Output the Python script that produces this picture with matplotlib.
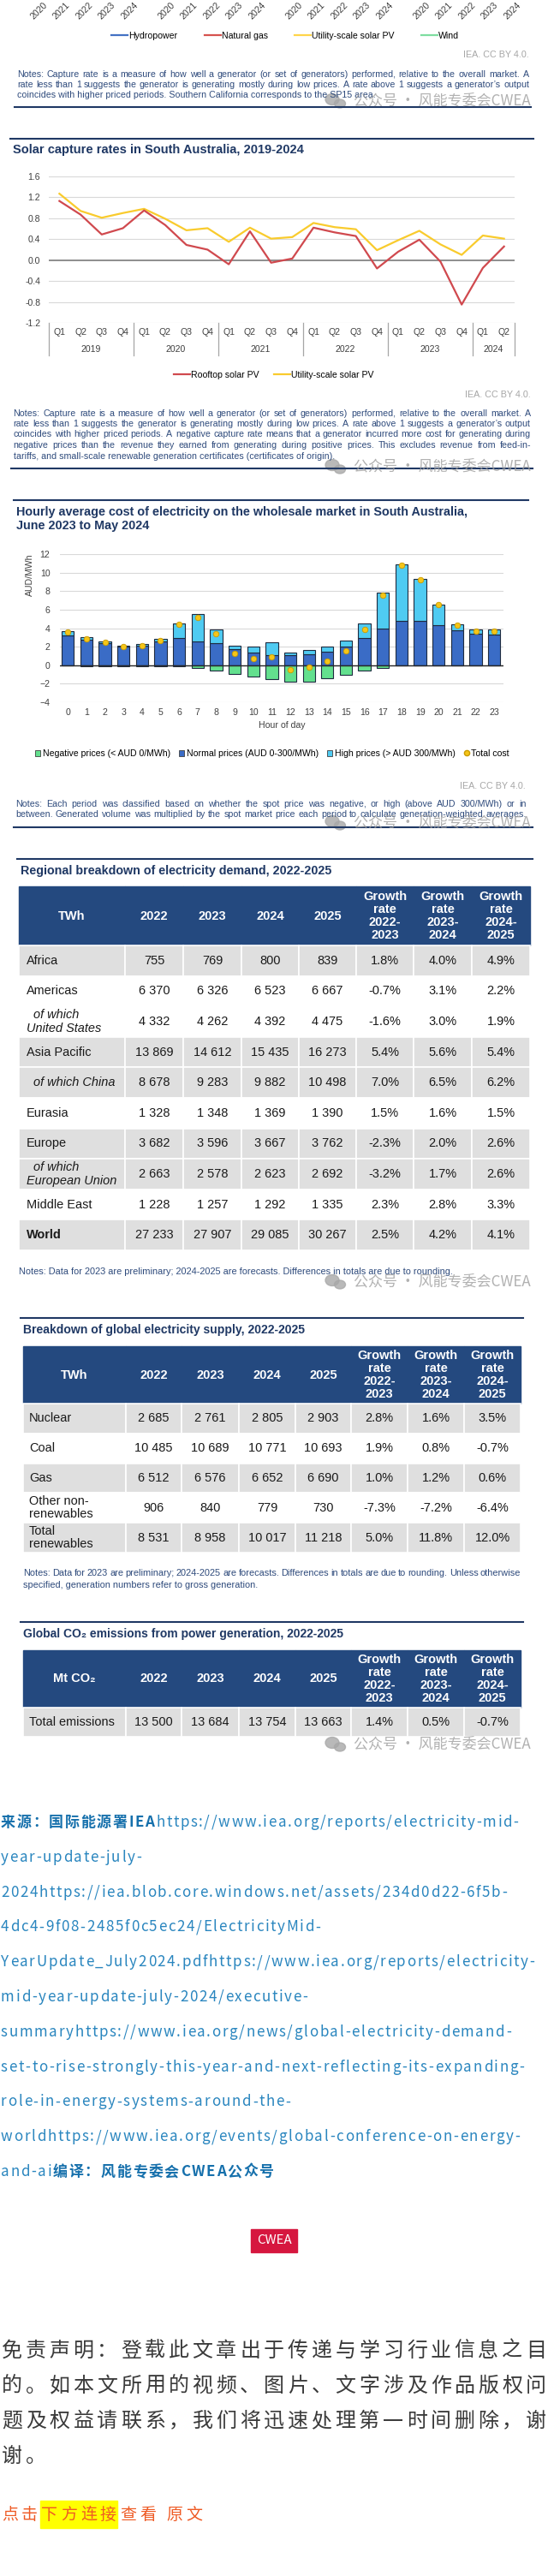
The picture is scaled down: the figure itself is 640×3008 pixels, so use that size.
import numpy as np
import matplotlib
matplotlib.use('Agg')
import matplotlib.pyplot as plt
import matplotlib.transforms as mtransforms
from matplotlib.lines import Line2D
from matplotlib.patches import Patch, Ellipse, Rectangle
from matplotlib.font_manager import FontProperties, findfont
from matplotlib.ft2font import FT2Font

W, H = 640, 3008
LATIN = ['Liberation Sans', 'DejaVu Sans']
CJK = ['Noto Sans CJK SC', 'DejaVu Sans']
plt.rcParams['font.family'] = LATIN

NAVY = '#1F3864'
NOTE = '#2F4B7C'
TICK = '#404040'
HEAD = '#24497F'

# ---- Daten ----
top_years = ['2020', '2021', '2022', '2023', '2024']
top_series = ['Hydropower', 'Natural gas', 'Utility-scale solar PV', 'Wind']
top_colors = ['#4472C4', '#D6534F', '#FFD54A', '#7EDDA0']

quarter_labels = ['Q1', 'Q2', 'Q3', 'Q4'] * 5 + ['Q1', 'Q2']
quarter_years = ['2019', '2020', '2021', '2022', '2023', '2024']
quarters_per_year = [4, 4, 4, 4, 4, 2]
rooftop_pv = [1.13, 0.87, 0.49, 0.61, 0.95, 0.67, 0.29, 0.20, -0.08, 0.55, -0.05, 0.03,
              0.62, 0.53, 0.46, -0.16, 0.16, 0.39, -0.03, -0.85, -0.15, 0.26]
utility_pv = [1.27, 0.94, 0.81, 0.90, 0.98, 0.79, 0.57, 0.61, 0.35, 0.62, 0.41, 0.44,
              0.71, 0.63, 0.59, 0.19, 0.38, 0.56, 0.30, 0.10, 0.47, 0.41]

hours = list(range(24))
normal_prices = [3.23, 2.77, 2.37, 2.00, 2.06, 2.55, 2.98, 2.60, 2.37, 1.78, 1.32, 1.08,
                 1.05, 1.14, 1.45, 1.97, 2.92, 4.00, 4.74, 4.83, 4.31, 3.75, 3.38, 3.29]
high_prices = [0.47, 0.23, 0.23, 0.15, 0.22, 0.28, 1.54, 2.88, 1.53, 0.37, 0.65, 1.44,
               0.27, 0.49, 0.52, 0.68, 1.60, 3.85, 6.12, 4.46, 2.27, 0.62, 0.50, 0.53]
negative_prices = [-0.05, -0.10, -0.10, -0.15, -0.12, -0.10, -0.10, -0.30, -0.55, -0.92, -1.23, -1.54,
                   -1.78, -1.75, -1.45, -1.02, -0.55, -0.30, -0.05, -0.03, -0.03, -0.05, -0.05, -0.05]
total_cost = [3.63, 2.83, 2.46, 2.00, 2.15, 2.70, 4.37, 5.17, 3.38, 1.23, 0.70, 0.92,
              -0.52, -0.22, 0.46, 1.54, 3.90, 7.54, 10.77, 9.23, 6.55, 4.30, 3.72, 3.69]

table_years = ['2022', '2023', '2024', '2025']
growth_heads = ['Growth\nrate\n2022-\n2023', 'Growth\nrate\n2023-\n2024', 'Growth\nrate\n2024-\n2025']

demand_regions = ['Africa', 'Americas', '  of which\nUnited States', 'Asia Pacific', '  of which China',
                  'Eurasia', 'Europe', '  of which\nEuropean Union', 'Middle East', 'World']
demand_twh = [[755, 769, 800, 839], [6370, 6326, 6523, 6667], [4332, 4262, 4392, 4475],
              [13869, 14612, 15435, 16273], [8678, 9283, 9882, 10498], [1328, 1348, 1369, 1390],
              [3682, 3596, 3667, 3762], [2663, 2578, 2623, 2692], [1228, 1257, 1292, 1335],
              [27233, 27907, 29085, 30267]]
demand_growth = [[1.8, 4.0, 4.9], [-0.7, 3.1, 2.2], [-1.6, 3.0, 1.9], [5.4, 5.6, 5.4], [7.0, 6.5, 6.2],
                 [1.5, 1.6, 1.5], [-2.3, 2.0, 2.6], [-3.2, 1.7, 2.6], [2.3, 2.8, 3.3], [2.5, 4.2, 4.1]]
demand_shaded = [1, 0, 0, 1, 1, 0, 1, 1, 0, 1]

supply_sources = ['Nuclear', 'Coal', 'Gas', 'Other non-\nrenewables', 'Total\nrenewables']
supply_twh = [[2685, 2761, 2805, 2903], [10485, 10689, 10771, 10693], [6512, 6576, 6652, 6690],
              [906, 840, 779, 730], [8531, 8958, 10017, 11218]]
supply_growth = [[2.8, 1.6, 3.5], [1.9, 0.8, -0.7], [1.0, 1.2, 0.6], [-7.3, -7.2, -6.4], [5.0, 11.8, 12.0]]
supply_shaded = [1, 0, 1, 0, 1]

co2_rows = ['Total emissions']
co2_mt = [[13500, 13684, 13754, 13663]]
co2_growth = [[1.4, 0.5, -0.7]]
co2_shaded = [1]

notes_top = [
    'Notes: Capture rate is a measure of how well a generator (or set of generators) performed, relative to the overall market. A',
    'rate less than 1 suggests the generator is generating mostly during low prices. A rate above 1 suggests a generator’s output',
    'coincides with higher priced periods. Southern California corresponds to the SP15 area.',
]
notes_solar = [
    'Notes: Capture rate is a measure of how well a generator (or set of generators) performed, relative to the overall market. A',
    'rate less than 1 suggests the generator is generating mostly during low prices. A rate above 1 suggests a generator’s output',
    'coincides with higher priced periods. A negative capture rate means that a generator incurred more cost for generating during',
    'negative prices than the revenue they earned from generating during positive prices. This excludes revenue from feed-in-',
    'tariffs, and small-scale renewable generation certificates (certificates of origin).',
]
notes_hourly = [
    'Notes: Each period was classified based on whether the spot price was negative, or high (above AUD 300/MWh) or in',
    'between. Generated volume was multiplied by the spot market price each period to calculate generation-weighted averages.',
]
notes_demand = ['Notes: Data for 2023 are preliminary; 2024-2025 are forecasts. Differences in totals are due to rounding.']
notes_supply = [
    'Notes: Data for 2023 are preliminary; 2024-2025 are forecasts. Differences in totals are due to rounding. Unless otherwise',
    'specified, generation numbers refer to gross generation.',
]

source_lines = [
    [('来源：国际能源署IEA', 'bold'), ('https://www.iea.org/reports/electricity-mid-', 'normal')],
    [('year-update-july-', 'normal')],
    [('2024https://iea.blob.core.windows.net/assets/234d0d22-6f5b-', 'normal')],
    [('4dc4-9f08-2485f0c5ec24/ElectricityMid-', 'normal')],
    [('YearUpdate_July2024.pdfhttps://www.iea.org/reports/electricity-', 'normal')],
    [('mid-year-update-july-2024/executive-', 'normal')],
    [('summaryhttps://www.iea.org/news/global-electricity-demand-', 'normal')],
    [('set-to-rise-strongly-this-year-and-next-reflecting-its-expanding-', 'normal')],
    [('role-in-energy-systems-around-the-', 'normal')],
    [('worldhttps://www.iea.org/events/global-conference-on-energy-', 'normal')],
    [('and-ai', 'normal'), ('编译：风能专委会CWEA公众号', 'bold')],
]
disclaimer = ['免责声明：登载此文章出于传递与学习行业信息之目',
              '的。如本文所用的视频、图片、文字涉及作品版权问',
              '题及权益请联系，我们将迅速处理第一时间删除，谢',
              '谢。']

# ---- Hilfsfunktionen (alles in Pixeln, y von oben) ----
fig = plt.figure(figsize=(W / 100, H / 100), dpi=100)
renderer = fig.canvas.get_renderer()


def px2pt(px):
    return px * 72 / 100


def fy(y):
    return 1 - y / H


def box(x0, y0, x1, y1):
    return [x0 / W, 1 - y1 / H, (x1 - x0) / W, (y1 - y0) / H]


def text(x, y, s, size, **kw):
    return fig.text(x / W, fy(y), s, fontsize=px2pt(size), **kw)


def rule(y, x0, x1, color=NAVY, lw=1.5):
    fig.add_artist(Line2D([x0 / W, x1 / W], [fy(y), fy(y)], transform=fig.transFigure,
                          color=color, lw=lw))


def width_of(s, fp):
    return renderer.get_text_width_height_descent(s, fp, ismath=False)[0]


def fit(s, target, weight='normal'):
    # Schriftgröße (px), bei der s die im Original gemessene Breite hat
    fp = FontProperties(family=LATIN, size=px2pt(10), weight=weight)
    return 10 * target / width_of(s, fp)


_ft = {}


def advance(ch, fp):
    path = findfont(fp)
    if path not in _ft:
        _ft[path] = FT2Font(path)
    f = _ft[path]
    f.set_size(fp.get_size_in_points(), 100)
    return f.load_char(ord(ch)).linearHoriAdvance / 65536


def justified(lines, x0, x1, y, step, size=10.6, color=NOTE, last_left=True):
    fp = FontProperties(family=LATIN, size=px2pt(size))
    for i, line in enumerate(lines):
        yy = y + i * step
        words = line.split(' ')
        if (last_left and i == len(lines) - 1) or len(words) == 1:
            fig.text(x0 / W, fy(yy), line, fontproperties=fp, color=color, va='baseline')
            continue
        widths = [width_of(w, fp) for w in words]
        gap = (x1 - x0 - sum(widths)) / (len(words) - 1)
        x = x0
        for w, ww in zip(words, widths):
            fig.text(x / W, fy(yy), w, fontproperties=fp, color=color, va='baseline')
            x += ww + gap


def spaced(x, y, parts, size, extra):
    xs = []
    for s, weight, color in parts:
        fp = FontProperties(family=CJK, size=px2pt(size), weight=weight)
        for ch in s:
            xs.append(x)
            if ch != ' ':
                fig.text(x / W, fy(y), ch, fontproperties=fp, color=color, va='baseline')
            x += advance(ch, fp) + extra
    xs.append(x)
    return xs


def watermark(yc):
    fig.text(620 / W, fy(yc), '公众号 · 风能专委会CWEA', family=CJK, fontsize=px2pt(17),
             color='#9E9E9E', alpha=0.8, ha='right', va='center')
    for cx, cy, w, h in [(388, yc - 2, 16, 13), (397, yc + 3, 13, 10)]:
        fig.add_artist(Ellipse((cx, H - cy), w, h, transform=mtransforms.IdentityTransform(),
                               color='#A8A8A8', alpha=0.8))


def ia_credit(x, y):
    text(x, y, 'IEA. CC BY 4.0.', 10.8, color='#A6A6A6', ha='right', va='center')


def title(x, y, s, target):
    text(x, y, s, fit(s, target, 'bold'), color=NAVY, fontweight='bold', va='center')


# ---- Rest der vorherigen Grafik (abgeschnitten) ----
for i in range(4):
    left = 36.75 + i * 149
    ax = fig.add_axes(box(left, -12, left + 132.5, -2))
    ax.set_xlim(-0.5, 4.5)
    ax.set_xticks(range(len(top_years)))
    ax.set_xticklabels(top_years, rotation=45, ha='right', rotation_mode='anchor',
                       fontsize=px2pt(10.5), color=TICK)
    ax.tick_params(length=0, pad=2)
    ax.set_yticks([])
    for s in ax.spines.values():
        s.set_visible(False)
    ax.patch.set_visible(False)

handles = [Line2D([], [], color=c, lw=1.6) for c in top_colors]
fig.legend(handles, top_series, loc='center', bbox_to_anchor=(333 / W, fy(42)), ncol=4,
           frameon=False, fontsize=px2pt(10.5), handlelength=1.8, handletextpad=0.1,
           columnspacing=3.0, borderpad=0, borderaxespad=0)
ia_credit(618, 64)
justified(notes_top, 20, 618, 89.5, 12)
watermark(118)
rule(125, 17, 620)

# ---- Solar capture rates ----
rule(162, 12, 623)
title(15, 175, 'Solar capture rates in South Australia, 2019-2024', 338)
ax = fig.add_axes(box(57, 206, 601, 377))
x = np.arange(len(quarter_labels))
ax.plot(x, utility_pv, color='#F9CB2D', lw=1.6, zorder=3)
ax.plot(x, rooftop_pv, color='#D0494E', lw=1.6, zorder=4)
ax.set_xlim(-0.5, len(quarter_labels) - 0.5)
ax.set_ylim(-1.2, 1.6)
ax.set_yticks([-1.2, -0.8, -0.4, 0.0, 0.4, 0.8, 1.2, 1.6])
ax.set_yticklabels([f'{v:.1f}' for v in ax.get_yticks()])
ax.yaxis.grid(True, color='#D9D9D9', lw=0.8)
ax.set_axisbelow(True)
ax.axhline(0, color='#808080', lw=1.2, zorder=2)
ax.set_xticks(x)
ax.set_xticklabels(quarter_labels)
ax.tick_params(length=0, labelsize=px2pt(10.5), labelcolor=TICK)
ax.tick_params(axis='x', pad=4)
ax.tick_params(axis='y', pad=7)
for s in ax.spines.values():
    s.set_visible(False)
trans = ax.get_xaxis_transform()
edges = np.concatenate([[0], np.cumsum(quarters_per_year)]) - 0.5
for xb in edges:
    ax.plot([xb, xb], [0, -38 / 171], transform=trans, clip_on=False, color='#A6A6A6', lw=0.9)
for yr, a, b in zip(quarter_years, edges[:-1], edges[1:]):
    ax.text((a + b) / 2, -31 / 171, yr, transform=trans, ha='center', va='center',
            fontsize=px2pt(10.5), color=TICK)

handles = [Line2D([], [], color='#D0494E', lw=1.6), Line2D([], [], color='#F9CB2D', lw=1.6)]
fig.legend(handles, ['Rooftop solar PV', 'Utility-scale solar PV'], loc='center',
           bbox_to_anchor=(320 / W, fy(438)), ncol=2, frameon=False, fontsize=px2pt(10.5),
           handlelength=1.8, handletextpad=0.1, columnspacing=1.7, borderpad=0, borderaxespad=0)
ia_credit(620, 461)
justified(notes_solar, 15.5, 620, 485.5, 12.5)
watermark(545)
rule(547, 13, 622)

# ---- Hourly average cost ----
rule(584, 16, 617)
hourly_title = 'Hourly average cost of electricity on the wholesale market in South Australia,'
hsize = fit(hourly_title, 526, 'bold')
text(19, 598, hourly_title, hsize, color=NAVY, fontweight='bold', va='center')
text(19, 614, 'June 2023 to May 2024', hsize, color=NAVY, fontweight='bold', va='center')
ax = fig.add_axes(box(69.5, 647, 588, 820))
c_neg, c_norm, c_high, c_dot = '#63E08E', '#3A6CC6', '#4FCBF2', '#F5C518'
edge = '#1E2B40'
ax.bar(hours, normal_prices, width=0.66, color=c_norm, edgecolor=edge, lw=0.8, zorder=3)
ax.bar(hours, high_prices, width=0.66, bottom=normal_prices, color=c_high, edgecolor=edge,
       lw=0.8, zorder=3)
ax.bar(hours, negative_prices, width=0.66, color=c_neg, edgecolor=edge, lw=0.8, zorder=3)
ax.scatter(hours, total_cost, s=22, color=c_dot, edgecolor='#C99A00', lw=0.6, zorder=5)
ax.axhline(0, color='#262626', lw=1.0, zorder=4)
ax.set_xlim(-0.45, 23.5)
ax.set_ylim(-4, 12)
ax.set_yticks(range(-4, 13, 2))
ax.set_xticks(hours)
ax.yaxis.grid(True, color='#D9D9D9', lw=0.8)
ax.set_axisbelow(True)
ax.tick_params(length=0, labelsize=px2pt(10.5), labelcolor=TICK)
ax.tick_params(axis='x', pad=5)
ax.tick_params(axis='y', pad=8)
ax.set_xlabel('Hour of day', fontsize=px2pt(10.5), color=TICK, labelpad=4)
for s in ax.spines.values():
    s.set_visible(False)
text(35, 647, 'AUD/MWh', 10.5, color=TICK, rotation=90, ha='center', va='top')

handles = [Patch(facecolor=c_neg, edgecolor='#404040', lw=0.6),
           Patch(facecolor=c_norm, edgecolor='#404040', lw=0.6),
           Patch(facecolor=c_high, edgecolor='#404040', lw=0.6),
           Line2D([], [], marker='o', ls='', markersize=4.5, markerfacecolor=c_dot,
                  markeredgecolor='#C99A00')]
labels = ['Negative prices (< AUD 0/MWh)', 'Normal prices (AUD 0-300/MWh)',
          'High prices (> AUD 300/MWh)', 'Total cost']
fig.legend(handles, labels, loc='center', bbox_to_anchor=(318 / W, fy(880)), ncol=4,
           frameon=False, fontsize=px2pt(10.5), handlelength=0.6, handleheight=0.6,
           handletextpad=0.2, columnspacing=1.0, borderpad=0, borderaxespad=0)
ia_credit(614, 918)
justified(notes_hourly, 18, 615, 941.5, 13, last_left=False)
watermark(961)
rule(966, 16, 622)


# ---- Tabellen ----
def fmt_num(v):
    return f'{v:,}'.replace(',', ' ')


def draw_table(x0, y0, x1, header_h, row_h, col_edges, first_head, labels, vals, growth,
               shaded, pad_px, bold_rows=()):
    n = len(labels)
    y1 = y0 + header_h + n * row_h
    ax = fig.add_axes(box(x0, y0, x1, y1))
    ax.axis('off')
    widths = np.diff(col_edges) / (x1 - x0)
    cells = [[first_head] + table_years + growth_heads]
    for lab, v, g in zip(labels, vals, growth):
        cells.append([lab] + [fmt_num(a) for a in v] + [f'{b:.1f}%' for b in g])
    tbl = ax.table(cellText=cells, colWidths=widths, cellLoc='center', bbox=[0, 0, 1, 1])
    tbl.auto_set_font_size(False)
    for (r, c), cell in tbl.get_celld().items():
        t = cell.get_text()
        if r == 0:
            cell.set_height(header_h)
            cell.set_facecolor(HEAD)
            cell.set_edgecolor(HEAD)
            t.set_color('white')
            t.set_fontweight('bold')
            t.set_fontsize(px2pt(14.6))
            t.set_linespacing(1.12)
        else:
            cell.set_height(row_h)
            cell.set_facecolor('#DFDFDF' if shaded[r - 1] else 'white')
            cell.set_edgecolor('white')
            cell.set_linewidth(1.2)
            t.set_fontsize(px2pt(14.5))
            t.set_color('#1A1A1A')
            t.set_linespacing(1.1)
            if c == 0:
                cell._loc = 'left'
                cell.PAD = pad_px / (col_edges[1] - col_edges[0])
                t.set_horizontalalignment('left')
                if 'of which' in labels[r - 1]:
                    t.set_fontstyle('italic')
                if r - 1 in bold_rows:
                    t.set_fontweight('bold')
    return tbl


rule(1003, 20, 622)
title(24, 1017, 'Regional breakdown of electricity demand, 2022-2025', 364)
draw_table(22, 1035, 619, 69, 35.6, [22, 146, 214, 282, 349, 416, 483, 551, 619], 'TWh',
           demand_regions, demand_twh, demand_growth, demand_shaded, 9, bold_rows=(9,))
nsize = fit(notes_demand[0], 505)
justified(notes_demand, 22, 608, 1487.5, 12, size=nsize)
watermark(1497)

rule(1539, 24, 611)
title(27, 1553, 'Breakdown of global electricity supply, 2022-2025', 330)
draw_table(27, 1572, 608, 67, 34.8, [27, 147, 212, 279, 345, 410, 476, 542, 608], 'TWh',
           supply_sources, supply_twh, supply_growth, supply_shaded, 7)
justified(notes_supply, 27, 608, 1840.5, 13, size=nsize)

rule(1894, 24, 611)
title(27, 1908, 'Global CO₂ emissions from power generation, 2022-2025', 376)
draw_table(27, 1927, 608, 67, 34, [27, 147, 212, 279, 345, 410, 476, 542, 608], 'Mt CO₂',
           co2_rows, co2_mt, co2_growth, co2_shaded, 7)
watermark(2037)

# ---- Quellenangabe ----
fp_src = FontProperties(family=CJK, size=px2pt(17))
longest = source_lines[7][0][0]
src_extra = (613 - sum(advance(ch, fp_src) for ch in longest)) / len(longest)
bold_blue, link_blue = '#1670AC', '#2A86BF'
for i, parts in enumerate(source_lines):
    styled = [(s, w, bold_blue if w == 'bold' else link_blue) for s, w in parts]
    spaced(1, 2133 + i * 40.8, styled, 17, src_extra)

# ---- CWEA-Logo ----
fig.add_artist(Rectangle((293, H - 2630), 54, 27, transform=mtransforms.IdentityTransform(),
                         color='#D6173F'))
text(320, 2616.5, 'CWEA', 15, family=CJK, color='white', ha='center', va='center')

# ---- Haftungsausschluss ----
fp_dis = FontProperties(family=CJK, size=px2pt(24))
dis_extra = (636 - sum(advance(ch, fp_dis) for ch in disclaimer[0])) / (len(disclaimer[0]) - 1)
for i, line in enumerate(disclaimer):
    spaced(2, 2752 + i * 41, [(line, 'normal', '#3A3A3A')], 24, dis_extra)

link_parts = [('点击', 'normal', '#EE5A24'), ('下方连接', 'normal', '#EE5A24'),
              ('查看 原文', 'normal', '#EE5A24')]
xs = spaced(2, 2942, link_parts, 19, 4)
fig.add_artist(Rectangle((xs[2] - 1, H - 2952), xs[6] - xs[2] - 2, 32,
                         transform=mtransforms.IdentityTransform(), color='#FFFF00', zorder=0))

fig.savefig('out.png', dpi=100)
